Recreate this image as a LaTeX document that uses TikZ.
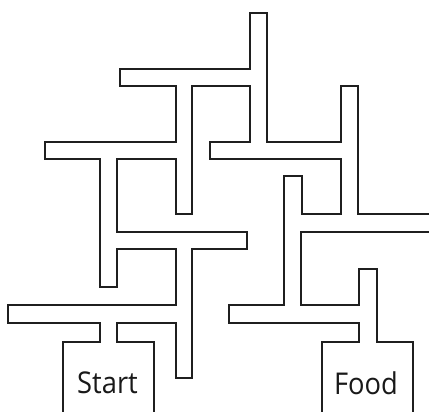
\documentclass[tikz,border=0pt]{standalone}
\usepackage{fontspec}
\setmainfont{Open Sans}
\begin{document}
\begin{tikzpicture}[x=1pt,y=-1pt,
  wall/.style={draw=black!88, line width=1.7pt, line join=miter},
  lbl/.style={font=\fontsize{30}{34}\selectfont, text=black!90, inner sep=0pt}]
\useasboundingbox (0,0) rectangle (429,412);
\begin{scope}
\clip (0,0) rectangle (429,412);
% outer left/top wall
\draw[wall] (63,414) -- (63,342) -- (100,342) -- (100,323) -- (8,323) -- (8,305)
  -- (176,305) -- (176,249) -- (117,249) -- (117,287) -- (100,287) -- (100,159)
  -- (45,159) -- (45,142) -- (176,142) -- (176,86) -- (120,86) -- (120,69)
  -- (250,69) -- (250,13) -- (267,13) -- (267,142) -- (341,142) -- (341,86)
  -- (358,86) -- (358,214) -- (431,214);
% inner wall
\draw[wall] (154,414) -- (154,342) -- (117,342) -- (117,323) -- (176,323)
  -- (176,378) -- (192,378) -- (192,249) -- (247,249) -- (247,232) -- (117,232)
  -- (117,159) -- (176,159) -- (176,214) -- (192,214) -- (192,86) -- (250,86)
  -- (250,142) -- (210,142) -- (210,159) -- (341,159) -- (341,214) -- (302,214)
  -- (302,176) -- (284,176) -- (284,305) -- (229,305) -- (229,323) -- (359,323)
  -- (359,342) -- (322,342) -- (322,414);
% right wall
\draw[wall] (431,232) -- (301,232) -- (301,305) -- (359,305) -- (359,269)
  -- (377,269) -- (377,342) -- (413,342) -- (413,414);
\end{scope}
\node[lbl, xscale=0.91] (start) at (107.5,383) {Start};
\node[lbl, xscale=0.91] (food) at (366,383) {Food};
\end{tikzpicture}
\end{document}
